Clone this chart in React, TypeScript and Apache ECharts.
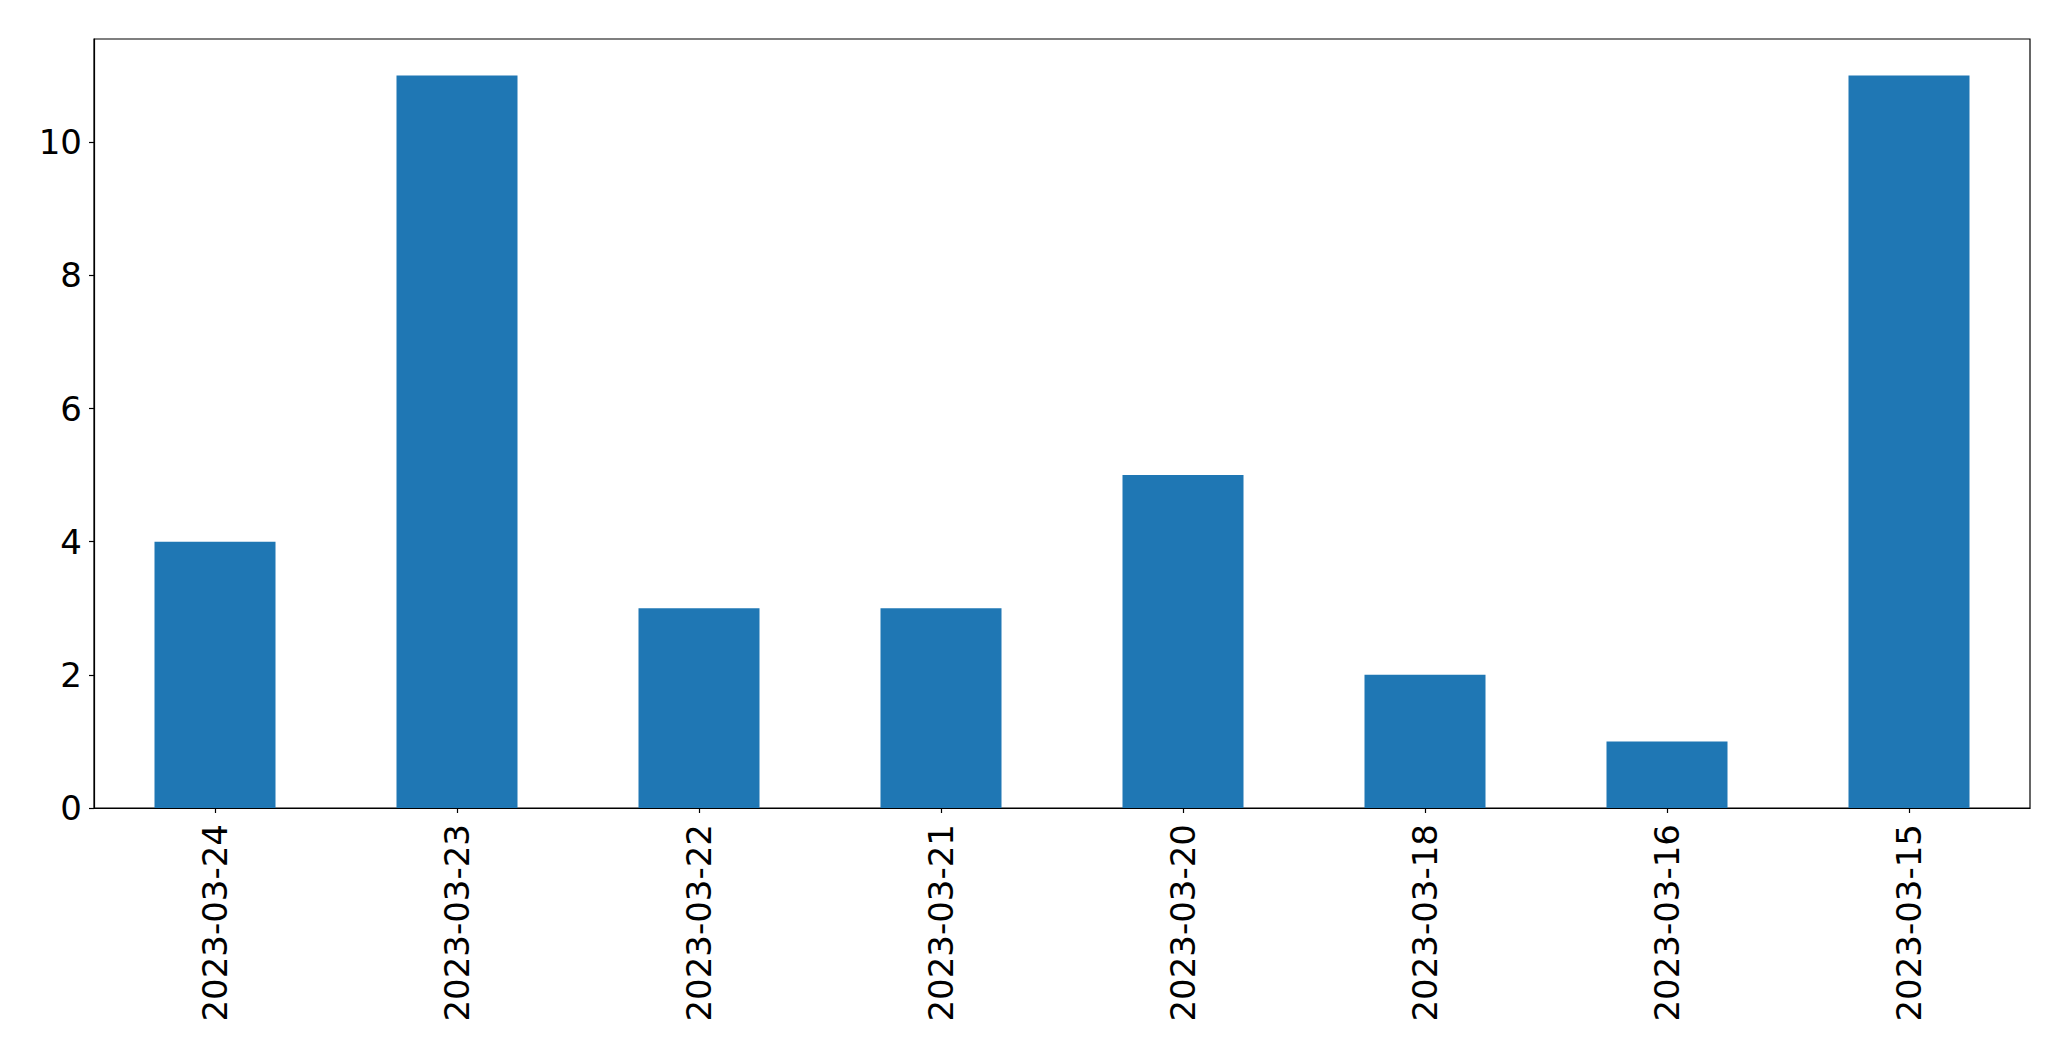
import React, { useEffect, useRef } from "react";
import * as echarts from "echarts";

const categories = [
  "2023-03-24",
  "2023-03-23",
  "2023-03-22",
  "2023-03-21",
  "2023-03-20",
  "2023-03-18",
  "2023-03-16",
  "2023-03-15",
];
const values = [4, 11, 3, 3, 5, 2, 1, 11];
const yTicks = [0, 2, 4, 6, 8, 10];
const yMax = 11.55;

export default function App() {
  const ref = useRef<HTMLDivElement>(null);
  useEffect(() => {
    if (!ref.current) return;
    const chart = echarts.init(ref.current, null, { renderer: "svg" });
    const font = "DejaVu Sans";
    chart.setOption({
      animation: false,
      backgroundColor: "#ffffff",
      grid: {
        left: 94,
        top: 39,
        right: 41,
        bottom: 253,
        show: true,
        borderColor: "#000000",
        borderWidth: 1.2,
        backgroundColor: "transparent",
      },
      xAxis: {
        type: "category",
        data: categories,
        axisLine: { show: true, lineStyle: { color: "#000000", width: 1.2 } },
        axisTick: {
          show: true,
          alignWithLabel: true,
          length: 5,
          lineStyle: { color: "#000000", width: 1.2 },
        },
        axisLabel: {
          rotate: 90,
          margin: 16,
          fontSize: 34,
          fontFamily: font,
          color: "#000000",
          interval: 0,
        },
        splitLine: { show: false },
      },
      yAxis: {
        type: "value",
        min: 0,
        max: yMax,
        interval: 2,
        axisLine: { show: true, lineStyle: { color: "#000000", width: 1.2 } },
        axisTick: {
          show: true,
          length: 5,
          customValues: yTicks,
          lineStyle: { color: "#000000", width: 1.2 },
        },
        axisLabel: {
          customValues: yTicks,
          margin: 12,
          fontSize: 34,
          fontFamily: font,
          color: "#000000",
        },
        splitLine: { show: false },
      },
      series: [
        {
          type: "bar",
          data: values,
          barWidth: "50%",
          itemStyle: { color: "#1f77b4" },
        },
      ],
    });
    return () => chart.dispose();
  }, []);
  return (
    <div
      ref={ref}
      style={{ position: "fixed", left: 0, top: 0, width: 2071, height: 1061, background: "#fff" }}
    />
  );
}
